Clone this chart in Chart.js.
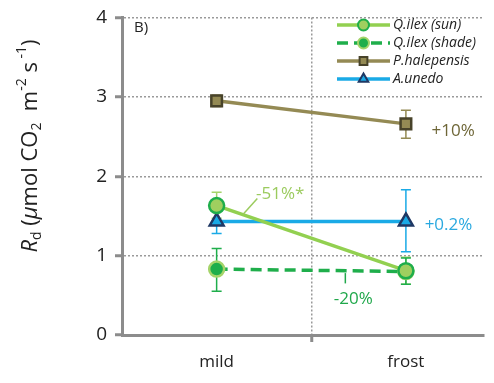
<!DOCTYPE html>
<html>
<head>
<meta charset="utf-8">
<script src="https://cdn.jsdelivr.net/npm/chart.js@4"></script>
<style>
  html, body { margin: 0; padding: 0; background: #fff; }
  #wrap { width: 494px; height: 383px; }
</style>
</head>
<body>
<div id="wrap"><canvas id="plot"></canvas></div>
<script>
// dados
const categorias = ["mild", "frost"];

const sun_vals = [1.63, 0.81];
const sun_hi = [1.80, 0.98];
const sun_lo = [1.47, 0.64];

const shade_vals = [0.83, 0.80];
const shade_hi = [1.09, 0.97];
const shade_lo = [0.55, 0.64];

const pine_vals = [2.95, 2.66];
const pine_hi = [3.02, 2.83];
const pine_lo = [2.88, 2.48];

const unedo_vals = [1.43, 1.43];
const unedo_hi = [1.58, 1.83];
const unedo_lo = [1.28, 1.05];

const yTicks = [0, 1, 2, 3, 4];

// anotações: texto, x, y (em unidades do gráfico)
const anotacoes = [
  { txt: "-51%*", x: 0.836, y: 1.78, cor: "#9BCB5E" },
  { txt: "-20%", x: 1.222, y: 0.45, cor: "#20A84B" },
  { txt: "+10%", x: 1.75, y: 2.57, cor: "#6E6637" },
  { txt: "+0.2%", x: 1.725, y: 1.38, cor: "#2AA9E0" }
];

const FONTE = "'Open Sans', 'Noto Sans', sans-serif";

function pontos(vals) {
  return vals.map((v, i) => ({ x: i + 0.5, y: v }));
}

const series = [
  {
    label: "Q.ilex (sun)", data: pontos(sun_vals), hi: sun_hi, lo: sun_lo,
    borderColor: "#92D050", borderWidth: 3.5, erroCor: "#A5D46A",
    pointStyle: "circle", pointRadius: 7.5, pointBackgroundColor: "#9FCF5F",
    pointBorderColor: "#1FAE4B", pointBorderWidth: 2.5
  },
  {
    label: "Q.ilex (shade)", data: pontos(shade_vals), hi: shade_hi, lo: shade_lo,
    borderColor: "#1FAE4B", borderWidth: 3.5, borderDash: [11, 6], erroCor: "#1FAE4B",
    pointStyle: "circle", pointRadius: 7.5, pointBackgroundColor: "#1FAE4B",
    pointBorderColor: "#A5D46A", pointBorderWidth: 2.5
  },
  {
    label: "P.halepensis", data: pontos(pine_vals), hi: pine_hi, lo: pine_lo,
    borderColor: "#948A54", borderWidth: 3.5, erroCor: "#948A54",
    pointStyle: "rect", pointRadius: 7.5, pointBackgroundColor: "#948A54",
    pointBorderColor: "#48432A", pointBorderWidth: 2.5
  },
  {
    label: "A.unedo", data: pontos(unedo_vals), hi: unedo_hi, lo: unedo_lo,
    borderColor: "#1AAAE6", borderWidth: 3.5, erroCor: "#1AAAE6",
    pointStyle: "triangle", pointRadius: 8, pointBackgroundColor: "#1AAAE6",
    pointBorderColor: "#1F3864", pointBorderWidth: 2.5
  }
];

// barras de erro
const plugin_erro = {
  id: "erro",
  beforeDatasetsDraw(chart) {
    const ctx = chart.ctx;
    const xs = chart.scales.x, ys = chart.scales.y;
    ctx.save();
    ctx.lineWidth = 1.5;
    series.forEach((s) => {
      ctx.strokeStyle = s.erroCor;
      s.data.forEach((p, i) => {
        const px = xs.getPixelForValue(p.x);
        const yh = ys.getPixelForValue(s.hi[i]);
        const yl = ys.getPixelForValue(s.lo[i]);
        ctx.beginPath();
        ctx.moveTo(px, yh); ctx.lineTo(px, yl);
        ctx.moveTo(px - 5, yh); ctx.lineTo(px + 5, yh);
        ctx.moveTo(px - 5, yl); ctx.lineTo(px + 5, yl);
        ctx.stroke();
      });
    });
    ctx.restore();
  },
  afterDatasetsDraw(chart) {
    const ctx = chart.ctx;
    const xs = chart.scales.x, ys = chart.scales.y;
    ctx.save();
    // linhas de chamada
    ctx.lineWidth = 1.5;
    ctx.strokeStyle = "#9BCB5E";
    ctx.beginPath();
    ctx.moveTo(xs.getPixelForValue(0.64), ys.getPixelForValue(1.52));
    ctx.lineTo(xs.getPixelForValue(0.715), ys.getPixelForValue(1.72));
    ctx.stroke();
    ctx.strokeStyle = "#20A84B";
    ctx.beginPath();
    ctx.moveTo(xs.getPixelForValue(1.18), ys.getPixelForValue(0.78));
    ctx.lineTo(xs.getPixelForValue(1.18), ys.getPixelForValue(0.65));
    ctx.stroke();

    ctx.font = "17px " + FONTE;
    ctx.textAlign = "center";
    ctx.textBaseline = "middle";
    anotacoes.forEach((a) => {
      ctx.fillStyle = a.cor;
      ctx.fillText(a.txt, xs.getPixelForValue(a.x), ys.getPixelForValue(a.y));
    });

    // B)
    ctx.fillStyle = "#222";
    ctx.font = "15px " + FONTE;
    ctx.textAlign = "left";
    ctx.fillText("B)", 134, 28);

    // legenda
    const lx0 = 337, lx1 = 390;
    const ly = [25, 43, 61, 79];
    series.forEach((s, i) => {
      const y = ly[i];
      ctx.strokeStyle = s.borderColor;
      ctx.lineWidth = 3.5;
      ctx.setLineDash(s.borderDash || []);
      ctx.beginPath();
      ctx.moveTo(lx0, y); ctx.lineTo(lx1, y);
      ctx.stroke();
      ctx.setLineDash([]);
      ctx.fillStyle = s.pointBackgroundColor;
      ctx.strokeStyle = s.pointBorderColor;
      ctx.lineWidth = 2;
      Chart.helpers.drawPoint(ctx, { pointStyle: s.pointStyle, radius: 5.5, rotation: 0, borderWidth: 2 }, (lx0 + lx1) / 2, y);
      ctx.fillStyle = "#222";
      ctx.font = "italic 14px " + FONTE;
      ctx.textAlign = "left";
      ctx.fillText(s.label, lx1 + 3, y);
    });

    // título do eixo y
    ctx.save();
    ctx.translate(31, 146);
    ctx.rotate(-Math.PI / 2);
    const partes = [
      { t: "R", f: "italic 22px", dy: 0 },
      { t: "d", f: "14px", dy: 6 },
      { t: " (", f: "22px", dy: 0 },
      { t: "\u03bc", f: "italic 22px", dy: 0 },
      { t: "mol CO", f: "22px", dy: 0 },
      { t: "2", f: "14px", dy: 6 },
      { t: "  m", f: "22px", dy: 0 },
      { t: "-2", f: "14px", dy: -9 },
      { t: " s", f: "22px", dy: 0 },
      { t: " -1", f: "14px", dy: -9 },
      { t: ")", f: "22px", dy: 0 }
    ];
    let w = 0;
    partes.forEach((p) => { ctx.font = p.f + " " + FONTE; w += ctx.measureText(p.t).width; });
    let cx = -w / 2;
    ctx.fillStyle = "#222";
    ctx.textBaseline = "middle";
    partes.forEach((p) => {
      ctx.font = p.f + " " + FONTE;
      ctx.fillText(p.t, cx, p.dy);
      cx += ctx.measureText(p.t).width;
    });
    ctx.restore();
    ctx.restore();
  }
};

new Chart(document.getElementById("plot"), {
  type: "line",
  data: { datasets: series },
  options: {
    responsive: true,
    maintainAspectRatio: false,
    animation: false,
    layout: { padding: { top: 9, right: 0, left: 0, bottom: 0 } },
    plugins: { legend: { display: false }, tooltip: { enabled: false } },
    scales: {
      x: {
        type: "linear",
        min: 0,
        max: 1.91,
        afterBuildTicks: (sc) => { sc.ticks = [{ value: 0.5 }, { value: 1 }, { value: 1.5 }]; },
        afterFit: (sc) => { sc.height = 48; },
        ticks: {
          autoSkip: false,
          maxRotation: 0,
          padding: 10,
          color: "#222",
          font: { family: FONTE, size: 17 },
          callback: (v) => (v === 0.5 ? categorias[0] : v === 1.5 ? categorias[1] : "")
        },
        grid: {
          color: (c) => (c.tick && c.tick.value === 1 ? "#999" : "rgba(0,0,0,0)"),
          lineWidth: 1.5,
          tickColor: (c) => (c.tick && c.tick.value === 1 ? "#8c8c8c" : "rgba(0,0,0,0)"),
          tickLength: 7,
          tickWidth: 3,
          tickBorderDash: []
        },
        border: { color: "#8c8c8c", width: 3, dash: [2, 2] }
      },
      y: {
        min: 0,
        max: 4,
        afterBuildTicks: (sc) => { sc.ticks = yTicks.map((v) => ({ value: v })); },
        afterFit: (sc) => { sc.width = 122; },
        ticks: {
          padding: 8,
          color: "#222",
          font: { family: FONTE, size: 19, lineHeight: 1 }
        },
        grid: {
          color: "#9a9a9a",
          lineWidth: 1.5,
          tickColor: "#8c8c8c",
          tickLength: 7,
          tickWidth: 3,
          tickBorderDash: []
        },
        border: { color: "#8c8c8c", width: 3, dash: [2, 2] }
      }
    }
  },
  plugins: [plugin_erro]
});
</script>
</body>
</html>
